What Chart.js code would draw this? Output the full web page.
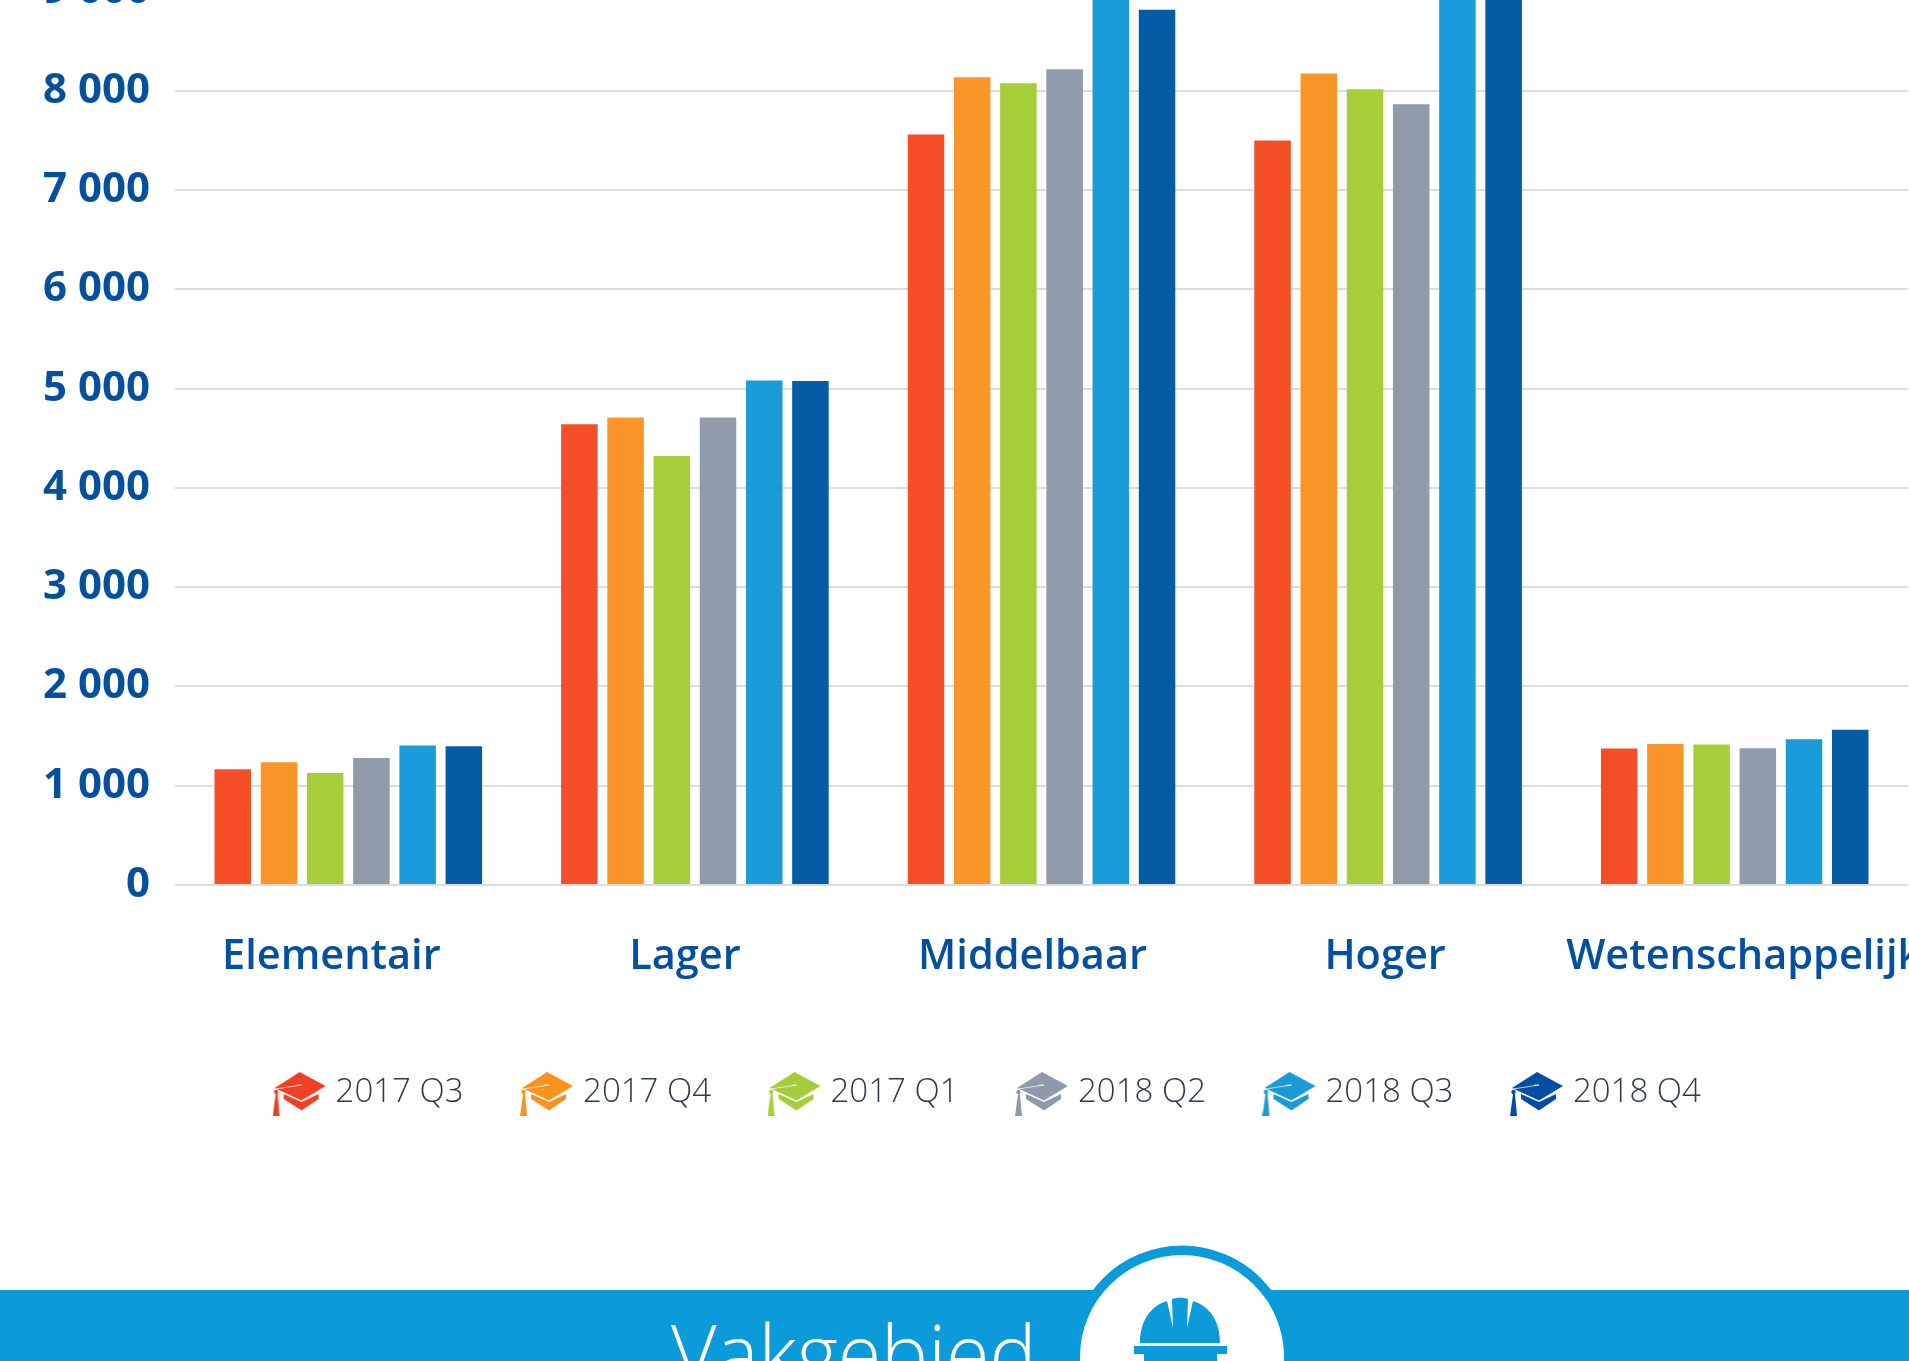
<!DOCTYPE html>
<html lang="nl">
<head>
    <meta charset="UTF-8">
    <title>Vakgebied</title>
    <script src="https://cdn.jsdelivr.net/npm/chart.js"></script>
    <style>
        html, body { margin: 0; padding: 0; background: white; }
        body { position: relative; width: 1909px; height: 1361px; overflow: hidden; }
        #grafiek { position: absolute; left: 0; top: -158px; }
        #band { position: absolute; left: 0; top: 1290px; width: 1909px; height: 71px; background: #0b9bda; }
        #titel { position: absolute; left: 671px; top: 1306px; color: white; font: 300 79px 'Open Sans', sans-serif; line-height: 92px; white-space: nowrap; }
        #helm { position: absolute; left: 0; top: 0; }
    </style>
</head>
<body>
    <canvas id="grafiek" width="1909" height="1448"></canvas>
    <div id="band"></div>
    <svg id="helm" width="1909" height="1361" viewBox="0 0 1909 1361">
        <circle cx="1182" cy="1357" r="111.5" fill="#0b9bda"/>
        <circle cx="1182" cy="1357" r="102" fill="white"/>
        <path d="M1140 1343 C1140 1320 1151 1306 1167 1301 L1173 1328 L1172 1299 Q1180 1296 1188 1299 L1187 1328 L1193 1301 C1209 1306 1220 1320 1220 1343 Z" fill="#0b9bda"/>
        <path d="M1134 1346 H1227 V1354 H1217 V1361 H1144 V1354 H1134 Z" fill="#0b9bda"/>
    </svg>
    <div id="titel">Vakgebied</div>
    <script>
        const categorieen = ["Elementair", "Lager", "Middelbaar", "Hoger", "Wetenschappelijk"];
        const kwartalen = ["2017 Q3", "2017 Q4", "2017 Q1", "2018 Q2", "2018 Q3", "2018 Q4"];
        const q3_2017 = [1165, 4640, 7560, 7500, 1374];
        const q4_2017 = [1237, 4708, 8135, 8175, 1421];
        const q1_2017 = [1129, 4320, 8075, 8014, 1414];
        const q2_2018 = [1280, 4708, 8216, 7863, 1378];
        const q3_2018 = [1404, 5082, 9900, 9700, 1467];
        const q4_2018 = [1398, 5076, 8817, 9500, 1565];
        const reeksen = [q3_2017, q4_2017, q1_2017, q2_2018, q3_2018, q4_2018];
        const kleuren = ["#f34e26", "#fa9529", "#a6ce39", "#8f9aab", "#1a9bda", "#065ca4"];
        const petKleuren = ["#f04023", "#f7941e", "#a5cd39", "#8e99ab", "#1b9ad7", "#034ea2"];
        // de labels staan in het origineel niet precies onder de groep
        const labelVerschuiving = [-17, -10, -9, -3, 9];

        // afstudeerpet voor de legenda
        function maakPet(kleur) {
            let c = document.createElement("canvas");
            c.width = 54;
            c.height = 49;
            let ctx = c.getContext("2d");
            ctx.translate(0, 4);
            ctx.fillStyle = kleur;
            ctx.beginPath();
            ctx.moveTo(2, 16); ctx.lineTo(27, 0); ctx.lineTo(53, 14); ctx.lineTo(29, 28.5);
            ctx.closePath();
            ctx.fill();
            ctx.beginPath();
            ctx.moveTo(11, 22); ctx.lineTo(29, 30); ctx.lineTo(46, 22); ctx.lineTo(46, 27); ctx.lineTo(29, 38.5); ctx.lineTo(11, 27);
            ctx.closePath();
            ctx.fill();
            ctx.beginPath();
            ctx.arc(3.5, 20, 2.2, 0, Math.PI * 2);
            ctx.fill();
            ctx.beginPath();
            ctx.moveTo(3, 22); ctx.lineTo(5, 22); ctx.lineTo(7, 44); ctx.lineTo(0, 44);
            ctx.closePath();
            ctx.fill();
            ctx.strokeStyle = "white";
            ctx.lineWidth = 0.7;
            ctx.beginPath();
            ctx.moveTo(3, 17); ctx.lineTo(29, 13); ctx.lineTo(24, 13);
            ctx.stroke();
            return c;
        }
        const petten = petKleuren.map(maakPet);

        const categorieLabels = {
            id: "categorieLabels",
            afterLayout(chart) {
                // legenda staat rechts van het midden
                chart.legend.left += 73;
            },
            afterDraw(chart) {
                let ctx = chart.ctx;
                ctx.save();
                ctx.font = "600 41.5px 'Open Sans', sans-serif";
                ctx.fillStyle = "#05509e";
                ctx.textAlign = "center";
                ctx.textBaseline = "middle";
                categorieen.forEach((naam, i) => {
                    ctx.fillText(naam, chart.scales.x.getPixelForValue(i) + labelVerschuiving[i], 1115);
                });
                ctx.restore();
            }
        };

        new Chart(document.getElementById("grafiek").getContext("2d"), {
            type: "bar",
            data: {
                labels: categorieen,
                datasets: reeksen.map((waarden, i) => ({
                    label: kwartalen[i],
                    data: waarden,
                    backgroundColor: kleuren[i],
                    categoryPercentage: 0.8,
                    barPercentage: 0.79
                }))
            },
            options: {
                responsive: false,
                animation: false,
                layout: { padding: { left: 0, top: 22, right: 1, bottom: 171 } },
                plugins: {
                    tooltip: { enabled: false },
                    legend: {
                        position: "bottom",
                        labels: {
                            usePointStyle: true,
                            pointStyleWidth: 39,
                            padding: 64,
                            color: "#2f3a4c",
                            font: { family: "'Open Sans', sans-serif", size: 33, weight: "300" },
                            generateLabels(chart) {
                                let items = Chart.defaults.plugins.legend.labels.generateLabels(chart);
                                items.forEach((item, i) => { item.pointStyle = petten[i]; });
                                return items;
                            }
                        }
                    }
                },
                scales: {
                    x: {
                        grid: { display: false },
                        border: { display: false },
                        ticks: { display: false },
                        afterFit(scale) { scale.height = 127; }
                    },
                    y: {
                        min: 0,
                        max: 10000,
                        afterFit(scale) { scale.width = 175; },
                        border: { display: false },
                        grid: { color: "#dcdcdc", lineWidth: 2, drawTicks: false },
                        ticks: {
                            stepSize: 1000,
                            padding: 25,
                            color: "#05509e",
                            font: { family: "'Open Sans', sans-serif", size: 42, weight: "bold" },
                            callback: (v) => String(v).replace(/\B(?=(\d{3})+$)/g, " ")
                        }
                    }
                }
            },
            plugins: [categorieLabels]
        });
    </script>
</body>
</html>
